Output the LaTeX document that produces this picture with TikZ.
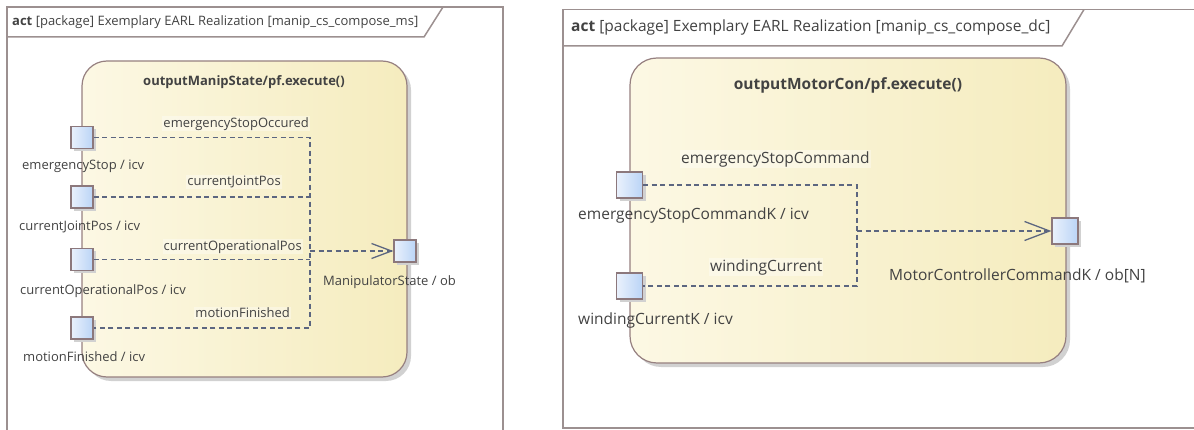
\documentclass[tikz,border=0pt]{standalone}
\usepackage{fontspec}
\setmainfont{Open Sans}
\usetikzlibrary{positioning,shadows,arrows.meta,calc}

\definecolor{framec}{RGB}{156,144,144}
\definecolor{boxc}{RGB}{150,128,128}
\definecolor{boxl}{RGB}{252,248,228}
\definecolor{boxr}{RGB}{245,236,190}
\definecolor{portc}{RGB}{140,120,124}
\definecolor{portl}{RGB}{234,241,252}
\definecolor{portr}{RGB}{186,212,246}
\definecolor{flowc}{RGB}{92,102,128}
\definecolor{txtc}{RGB}{66,66,66}

\tikzset{
  frame/.style={draw=framec, line width=1.5pt},
  actbox/.style={draw=boxc, line width=1.2pt, left color=boxl, right color=boxr,
    drop shadow={shadow xshift=4pt, shadow yshift=-4pt, fill=black!18, opacity=1}},
  portbox/.style={draw=portc, line width=1.2pt, left color=portl, right color=portr,
    inner sep=0pt, drop shadow={shadow xshift=3pt, shadow yshift=-3pt, fill=black!18, opacity=1}},
  flow/.style={draw=flowc, line width=1.3pt, dash pattern=on 5pt off 3.5pt},
  flowtip/.style 2 args={draw=flowc, line width=1.3pt, solid,
    -{Straight Barb[length=#1, width=#2]}},
  lbl/.style={text=txtc, inner sep=1pt},
  elbl/.style={lbl, fill=white, fill opacity=.35, text opacity=1},
}

\begin{document}
\begin{tikzpicture}[x=1pt, y=-1pt,
    ms/.style={font=\fontsize{13}{15}\selectfont},
    dc/.style={font=\fontsize{15.5}{18}\selectfont}]
	\useasboundingbox (0,0) rectangle (1194,430);
	\clip (0,0) rectangle (1194,430);

	% left frame
	\draw[frame] (7,440) -- (7,7) -- (503,7) -- (503,440);
	\draw[frame] (7,37) -- (424,37) -- (443,7);
	\node[lbl, ms, anchor=west] (mshead) at (11,22)
	   {\textbf{act} [package] Exemplary EARL Realization [manip\_cs\_compose\_ms]};

	\node[actbox, rounded corners=25pt, minimum width=325pt, minimum height=316pt] (msact) at (244.5,219) {};
	\node[lbl, ms] (mstitle) at (244,82) {\textbf{outputManipState/pf.execute()}};

	\node[portbox, minimum size=22pt] (msin1) at (82,137.5) {};
	\node[portbox, minimum size=22pt] (msin2) at (82,197) {};
	\node[portbox, minimum size=22pt] (msin3) at (82,259.5) {};
	\node[portbox, minimum size=22pt] (msin4) at (82,328) {};
	\node[portbox, minimum size=22pt] (msout) at (405,251) {};
	\coordinate (msj) at (310,251);

	\draw[flow] (msin1.east) -- (msin1.east -| msj) -- (msin4.east -| msj) -- (msin4.east);
	\draw[flow] (msin2.east) -- (msin2.east -| msj);
	\draw[flow] (msin3.east) -- (msin3.east -| msj);
	\draw[flow] (msj) -- (msout.west);
	\draw[flowtip={20pt}{15pt}] ($(msout.west)+(-4,0)$) -- (msout.west);

	\node[elbl, ms, anchor=east] at (310,124) {emergencyStopOccured};
	\node[elbl, ms, anchor=east] at (282,182) {currentJointPos};
	\node[elbl, ms, anchor=east] at (303,247) {currentOperationalPos};
	\node[elbl, ms, anchor=east] at (291,313) {motionFinished};

	\node[lbl, ms, anchor=west] at (21,166) {emergencyStop / icv};
	\node[lbl, ms, anchor=west] at (18,227) {currentJointPos / icv};
	\node[lbl, ms, anchor=west] at (19,291) {currentOperationalPos / icv};
	\node[lbl, ms, anchor=west] at (22,357) {motionFinished / icv};
	\node[lbl, ms, anchor=west] at (322,282) {ManipulatorState / ob};

	% right frame
	\draw[frame] (1200,428) -- (563,428) -- (563,9.5) -- (1200,9.5);
	\draw[frame] (563,46) -- (1062,46) -- (1084,9.5);
	\node[lbl, dc, anchor=west] (dchead) at (570,27)
	   {\textbf{act} [package] Exemplary EARL Realization [manip\_cs\_compose\_dc]};

	\node[actbox, rounded corners=27pt, minimum width=436pt, minimum height=305pt] (dcact) at (848,210.5) {};
	\node[lbl, dc] (dctitle) at (848,85) {\textbf{outputMotorCon/pf.execute()}};

	\node[portbox, minimum size=26pt] (dcin1) at (629.5,185) {};
	\node[portbox, minimum size=26pt] (dcin2) at (629.5,286) {};
	\node[portbox, minimum size=26pt] (dcout) at (1065,231) {};
	\coordinate (dcj) at (857,231);

	\draw[flow] (dcin1.east) -- (dcin1.east -| dcj) -- (dcin2.east -| dcj) -- (dcin2.east);
	\draw[flow] (dcj) -- (dcout.west);
	\draw[flowtip={25pt}{19pt}] ($(dcout.west)+(-4,0)$) -- (dcout.west);

	\node[elbl, dc, anchor=west] at (680,159) {emergencyStopCommand};
	\node[elbl, dc, anchor=west] at (709,267) {windingCurrent};

	\node[lbl, dc, anchor=west] at (577,215) {emergencyStopCommandK / icv};
	\node[lbl, dc, anchor=west] at (577,320) {windingCurrentK / icv};
	\node[lbl, dc, anchor=west] at (888,276) {MotorControllerCommandK / ob[N]};
\end{tikzpicture}
\end{document}
